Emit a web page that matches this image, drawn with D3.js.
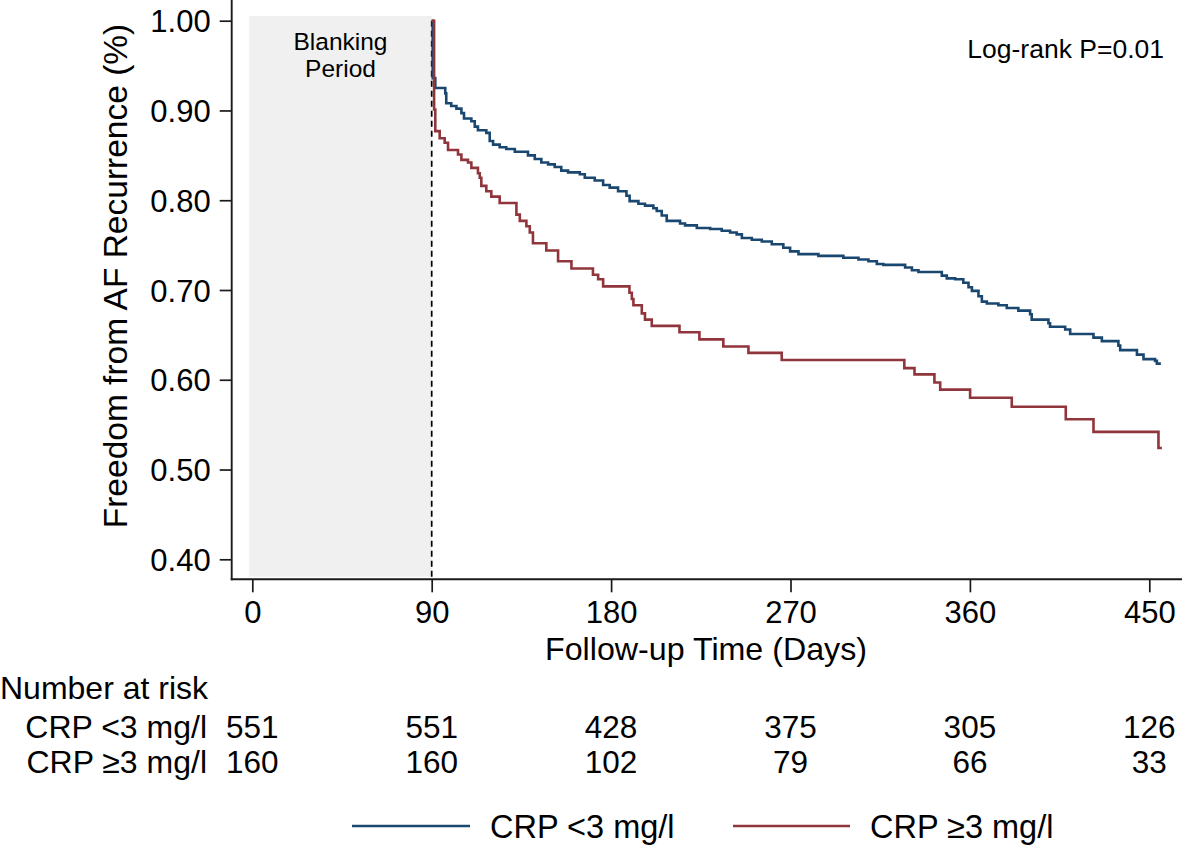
<!DOCTYPE html>
<html><head><meta charset="utf-8">
<script src="https://cdn.jsdelivr.net/npm/d3@7/dist/d3.min.js"></script>
<style>
html,body{margin:0;padding:0;background:#fff;}
svg{display:block;font-family:"Liberation Sans",Arial,Helvetica,sans-serif;}
</style></head>
<body>
<svg id="chart" width="1182" height="845"></svg>
<script>
// ---- data ----
const yTicks = [0.40, 0.50, 0.60, 0.70, 0.80, 0.90, 1.00];
const xTicks = [0, 90, 180, 270, 360, 450];
const seriesNames = ["CRP <3 mg/l", "CRP \u22653 mg/l"];
const riskLow = [551, 551, 428, 375, 305, 126];
const riskHigh = [160, 160, 102, 79, 66, 33];
const blankingEnd = 90;
const logRankText = "Log-rank P=0.01";

// CRP <3 mg/l : [day, survival]
const crpLow = [
 [90,1.0],[90.5,0.936],[91.8,0.925],[96.8,0.919],[97.3,0.908],[99.8,0.905],[102.4,0.902],
 [104.9,0.897],[106.2,0.891],[109.9,0.888],[111.6,0.882],[113.2,0.878],[117.4,0.875],
 [119.1,0.866],[120.8,0.862],[124.1,0.859],[127.4,0.857],[131.7,0.854],[138.3,0.850],
 [141.7,0.846],[145,0.842],[148.4,0.840],[151.7,0.837],[155,0.833],[158.4,0.831],
 [164.3,0.829],[166.8,0.825],[171.8,0.822],[176,0.817],[179.3,0.814],[183.5,0.810],
 [187.7,0.805],[189.3,0.799],[193.7,0.796],[197,0.794],[201.2,0.791],[202.9,0.788],
 [205.4,0.783],[207.9,0.777],[214.6,0.774],[217.1,0.772],[223,0.769],[229.7,0.768],
 [235.5,0.766],[239.7,0.764],[243,0.762],[245.6,0.758],[250.6,0.756],[255.6,0.754],
 [260.6,0.751],[266.4,0.747],[269.8,0.743],[274,0.740],[284,0.738],[296.5,0.736],
 [304.1,0.734],[309.1,0.732],[313.3,0.729],[316.6,0.728],[327.5,0.725],[330.9,0.722],
 [334.2,0.720],[345.9,0.716],[348.4,0.713],[352.6,0.712],[356.7,0.708],[359.3,0.703],
 [361,0.699],[364.3,0.693],[366,0.687],[368.5,0.685],[374.3,0.683],[378.5,0.680],
 [384.3,0.677],[390.2,0.673],[391,0.667],[399.4,0.663],[400.2,0.659],[407.8,0.656],
 [410.3,0.651],[422,0.647],[426.2,0.643],[434.5,0.638],[435.4,0.633],[443.8,0.628],
 [447.1,0.623],[452.9,0.621],[453.8,0.618],[455.8,0.618]
];
// CRP >=3 mg/l : [day, survival]
const crpHigh = [
 [90,1.0],[91.2,0.901],[91.8,0.877],[94,0.869],[96.5,0.864],[98.2,0.856],[103.2,0.851],
 [104.9,0.845],[108.2,0.842],[109.9,0.836],[113.2,0.830],[114.1,0.825],[114.9,0.816],
 [117.4,0.810],[119.9,0.804],[124.1,0.797],[132.5,0.784],[134.2,0.777],[137.5,0.771],
 [139.2,0.764],[140.8,0.752],[147.5,0.744],[153.4,0.732],[160.1,0.724],[170.9,0.717],
 [173.5,0.712],[176,0.704],[189.2,0.697],[190.4,0.690],[191.2,0.683],[195.4,0.674],
 [197,0.667],[200.4,0.660],[214.3,0.653],[224.3,0.645],[236.3,0.637],[248.9,0.630],
 [265.6,0.622],[327.1,0.613],[332.2,0.606],[342.2,0.597],[345.1,0.589],[360.1,0.580],
 [381,0.570],[408.1,0.556],[422,0.542],[454.6,0.524],[456.3,0.524]
];

// ---- layout ----
const colors = ["#1a476f", "#90353b"];
const svg = d3.select("#chart");
const x = d3.scaleLinear().domain([0, 450]).range([252.3, 1149.3]);
const y = d3.scaleLinear().domain([0.4, 1.0]).range([559.3, 20.7]);
const axisX = 231.7, axisY = 579.3;
const axisColor = "#1a1a1a";
const FONT = "Liberation Sans, Arial, sans-serif";

// blanking period box
svg.append("rect")
  .attr("x", x(0) - 3).attr("y", 16)
  .attr("width", x(blankingEnd) - x(0) + 3).attr("height", 576.7 - 16)
  .attr("fill", "#f0f0f0");

svg.append("text").attr("x", (x(0) - 3 + x(blankingEnd)) / 2).attr("y", 50)
  .attr("text-anchor", "middle").attr("font-size", 24.5).text("Blanking");
svg.append("text").attr("x", (x(0) - 3 + x(blankingEnd)) / 2).attr("y", 77)
  .attr("text-anchor", "middle").attr("font-size", 24.5).text("Period");

// axes
const yAxis = d3.axisLeft(y).tickValues(yTicks).tickFormat(d3.format(".2f")).tickSize(12).tickPadding(9);
const gy = svg.append("g").attr("transform", `translate(${axisX},0)`).call(yAxis);
gy.select(".domain").remove();
gy.selectAll("line").attr("stroke", axisColor).attr("stroke-width", 1.7);
gy.selectAll("text").attr("font-size", 31).attr("fill", "#000").attr("font-family", FONT).attr("dy", "0.36em");
svg.append("line").attr("x1", axisX).attr("x2", axisX).attr("y1", 0).attr("y2", axisY + 0.9)
  .attr("stroke", axisColor).attr("stroke-width", 1.9);

const xAxis = d3.axisBottom(x).tickValues(xTicks).tickFormat(d3.format("d")).tickSize(13).tickPadding(9);
const gx = svg.append("g").attr("transform", `translate(0,${axisY})`).call(xAxis);
gx.select(".domain").remove();
gx.selectAll("line").attr("stroke", axisColor).attr("stroke-width", 1.7);
gx.selectAll("text").attr("font-size", 31).attr("fill", "#000").attr("font-family", FONT);
svg.append("line").attr("x1", axisX - 0.9).attr("x2", 1182).attr("y1", axisY).attr("y2", axisY)
  .attr("stroke", axisColor).attr("stroke-width", 1.9);

// axis titles
svg.append("text").attr("transform", `translate(127,276) rotate(-90)`)
  .attr("text-anchor", "middle").attr("font-size", 33.5).text("Freedom from AF Recurrence (%)");
svg.append("text").attr("x", 706).attr("y", 660)
  .attr("text-anchor", "middle").attr("font-size", 32.2).text("Follow-up Time (Days)");

// blanking dashed line
svg.append("line").attr("x1", x(blankingEnd)).attr("x2", x(blankingEnd))
  .attr("y1", y(1.0)).attr("y2", axisY)
  .attr("stroke", "#000").attr("stroke-width", 1.7).attr("stroke-dasharray", "6,4");

// curves
const line = d3.line().x(d => x(d[0])).y(d => y(d[1])).curve(d3.curveStepAfter);
[crpLow, crpHigh].forEach((s, i) => {
  svg.append("path").datum(s).attr("d", line)
    .attr("fill", "none").attr("stroke", colors[i]).attr("stroke-width", 2.6)
    .attr("stroke-linejoin", "miter");
});

// log-rank
svg.append("text").attr("x", 1164).attr("y", 58).attr("text-anchor", "end")
  .attr("font-size", 26.5).text(logRankText);

// number at risk table
svg.append("text").attr("x", 0).attr("y", 699).attr("font-size", 32).text("Number at risk");
const rows = [riskLow, riskHigh];
const rowY = [738, 773];
rows.forEach((r, i) => {
  svg.append("text").attr("x", 207).attr("y", rowY[i]).attr("text-anchor", "end")
    .attr("font-size", 32).text(seriesNames[i]);
  svg.selectAll(null).data(r).enter().append("text")
    .attr("x", (d, j) => x(xTicks[j])).attr("y", rowY[i])
    .attr("text-anchor", "middle").attr("font-size", 31.5).text(d => d);
});

// legend
const legY = 826;
const legItems = [{x1: 352, x2: 470, tx: 490}, {x1: 733, x2: 850, tx: 870}];
legItems.forEach((L, i) => {
  svg.append("line").attr("x1", L.x1).attr("x2", L.x2).attr("y1", legY).attr("y2", legY)
    .attr("stroke", colors[i]).attr("stroke-width", 2.6);
  svg.append("text").attr("x", L.tx).attr("y", legY + 12).attr("font-size", 32.5).text(seriesNames[i]);
});
</script>
</body></html>
